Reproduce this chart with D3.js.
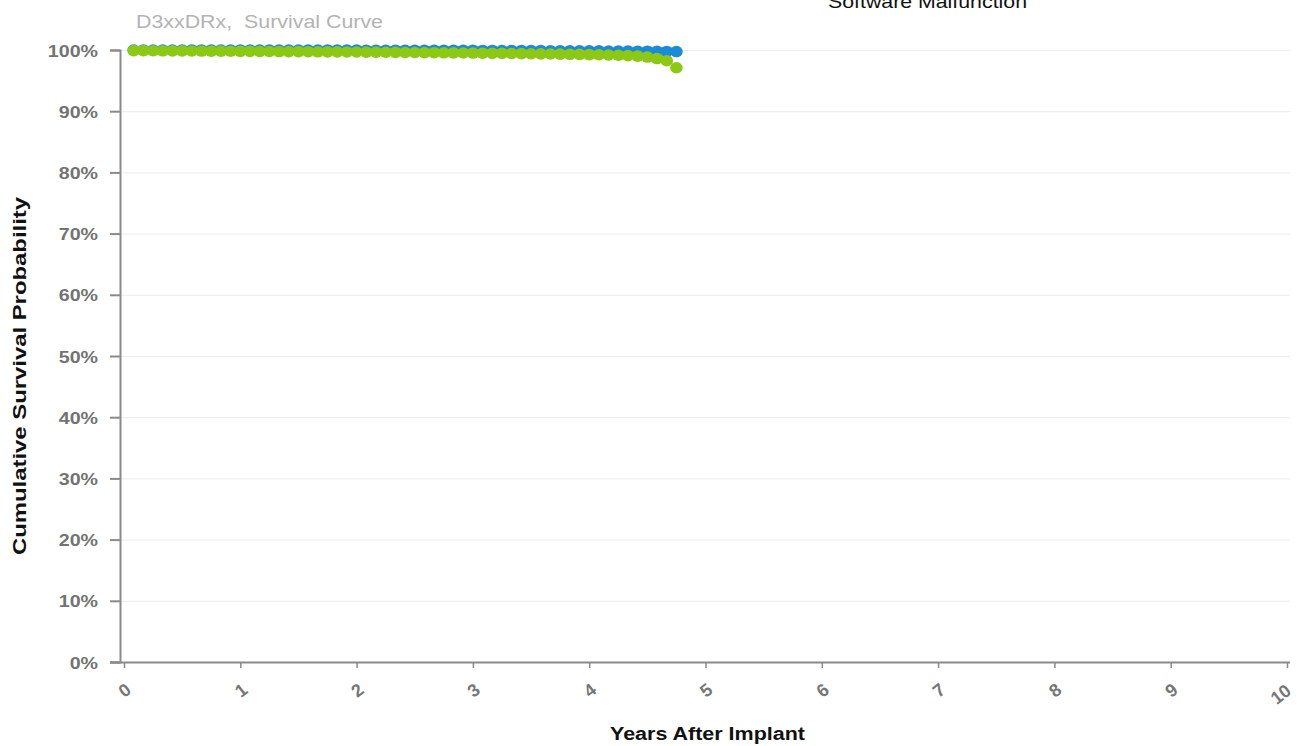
<!DOCTYPE html>
<html>
<head>
<meta charset="utf-8">
<script src="https://cdn.jsdelivr.net/npm/d3@7"></script>
<style>
  html, body { margin: 0; padding: 0; background: #fff; }
  svg { display: block; font-family: Arial, "Liberation Sans", sans-serif; }
  text { white-space: pre; }
</style>
</head>
<body>
<svg id="chart" width="1300" height="746"></svg>
<script>
// ---- data ----
const chartTitle = "D3xxDRx,  Survival Curve";
const legendLabel = "Software Malfunction";
const xTitle = "Years After Implant";
const yTitle = "Cumulative Survival Probability";
const xTicks = [0, 1, 2, 3, 4, 5, 6, 7, 8, 9, 10];
const yTicks = [0, 10, 20, 30, 40, 50, 60, 70, 80, 90, 100];
const months = [1,2,3,4,5,6,7,8,9,10,11,12,13,14,15,16,17,18,19,20,21,22,23,24,25,26,27,28,29,30,
  31,32,33,34,35,36,37,38,39,40,41,42,43,44,45,46,47,48,49,50,51,52,53,54,55,56,57];
const blueSurvival = [100,100,100,100,100,100,100,100,100,100,100,100,
  99.98,99.98,99.98,99.98,99.98,99.98,99.98,99.98,99.98,99.98,99.98,99.98,
  99.95,99.95,99.95,99.95,99.95,99.95,99.95,99.95,99.95,99.95,99.95,99.95,
  99.93,99.93,99.92,99.92,99.9,99.9,99.9,99.88,99.88,99.87,99.87,99.86,
  99.85,99.84,99.83,99.82,99.8,99.8,99.78,99.76,99.75];
const greenSurvival = [99.9,99.89,99.88,99.87,99.86,99.85,99.84,99.83,99.82,99.81,99.8,99.79,
  99.78,99.77,99.76,99.75,99.74,99.73,99.72,99.71,99.7,99.69,99.68,99.67,
  99.66,99.65,99.63,99.62,99.6,99.59,99.57,99.56,99.54,99.53,99.51,99.5,
  99.48,99.46,99.45,99.43,99.41,99.39,99.37,99.35,99.33,99.3,99.28,99.25,
  99.22,99.18,99.14,99.08,99.0,98.85,98.6,98.25,97.1];

// ---- layout ----
const svg = d3.select("#chart");
const FONT = "Arial, 'Liberation Sans', sans-serif";
const x = d3.scaleLinear().domain([0, 10]).range([124, 1287]);
const y = d3.scaleLinear().domain([0, 100]).range([662, 50]);
const axisX0 = 120;
const SX = 1.19; // horizontal stretch of text in the reference

// gridlines
svg.append("g")
  .attr("transform", `translate(${axisX0},0)`)
  .call(d3.axisLeft(y).tickValues(yTicks.slice(1)).tickSize(-(1290 - axisX0)).tickFormat(""))
  .call(g => g.select(".domain").remove())
  .call(g => g.selectAll("line").attr("stroke", "#ebebeb").attr("stroke-width", 1));

// y axis
const yAxisG = svg.append("g")
  .attr("transform", `translate(${axisX0},0)`)
  .call(d3.axisLeft(y).tickValues(yTicks).tickSize(10).tickFormat(d => d + "%"))
  .call(g => g.select(".domain").attr("stroke", "#8a8a8a").attr("stroke-width", 2))
  .call(g => g.selectAll(".tick line").attr("stroke", "#8a8a8a").attr("stroke-width", 2));
yAxisG.selectAll(".tick text")
  .attr("x", null).attr("dy", null)
  .attr("fill", "#737373").attr("font-size", 16.5).attr("font-weight", "bold").attr("font-family", FONT)
  .attr("text-anchor", "end")
  .attr("transform", `translate(-22,6) scale(${SX},1)`);

// x axis
const xAxisG = svg.append("g")
  .attr("transform", `translate(0,662)`)
  .call(d3.axisBottom(x).tickValues(xTicks).tickSize(6).tickFormat(d => d))
  .call(g => g.select(".domain").attr("d", `M110,0.5H1290`).attr("stroke", "#8a8a8a").attr("stroke-width", 2))
  .call(g => g.selectAll(".tick line").attr("stroke", "#8a8a8a").attr("stroke-width", 1.5));
xAxisG.selectAll(".tick text")
  .attr("fill", "#767676").attr("font-size", 18).attr("font-weight", "bold").attr("font-family", FONT)
  .attr("text-anchor", "end").attr("dy", null).attr("y", null)
  .attr("transform", d => `translate(${d >= 10 ? 5 : 8},${d >= 10 ? 31 : 30}) rotate(-38)`);

// titles
svg.append("text").attr("x", 136).attr("y", 28).attr("fill", "#b3b3b3")
  .attr("font-size", 18).attr("font-family", FONT)
  .attr("textLength", 247).attr("lengthAdjust", "spacingAndGlyphs").text(chartTitle);
svg.append("text").attr("x", 828).attr("y", 8).attr("fill", "#111")
  .attr("font-size", 18).attr("font-family", FONT)
  .attr("textLength", 199).attr("lengthAdjust", "spacingAndGlyphs").text(legendLabel);
svg.append("text").attr("x", 610).attr("y", 740)
  .attr("fill", "#111").attr("font-size", 18).attr("font-weight", "bold").attr("font-family", FONT)
  .attr("textLength", 195).attr("lengthAdjust", "spacingAndGlyphs").text(xTitle);
svg.append("text").attr("transform", `translate(26,376) rotate(-90)`).attr("text-anchor", "middle")
  .attr("fill", "#111").attr("font-size", 19).attr("font-weight", "bold").attr("font-family", FONT)
  .attr("textLength", 358).attr("lengthAdjust", "spacingAndGlyphs").text(yTitle);

// series
const series = [
  { name: "blue", values: blueSurvival, color: "#1b8ad8" },
  { name: "green", values: greenSurvival, color: "#8cc814" }
];
series.forEach(s => {
  svg.append("g").selectAll("ellipse")
    .data(months.map((m, i) => ({ t: m / 12, v: s.values[i] })))
    .join("ellipse")
    .attr("cx", d => x(d.t))
    .attr("cy", d => y(d.v))
    .attr("rx", 6.3)
    .attr("ry", 5.8)
    .attr("fill", s.color);
});
</script>
</body>
</html>
